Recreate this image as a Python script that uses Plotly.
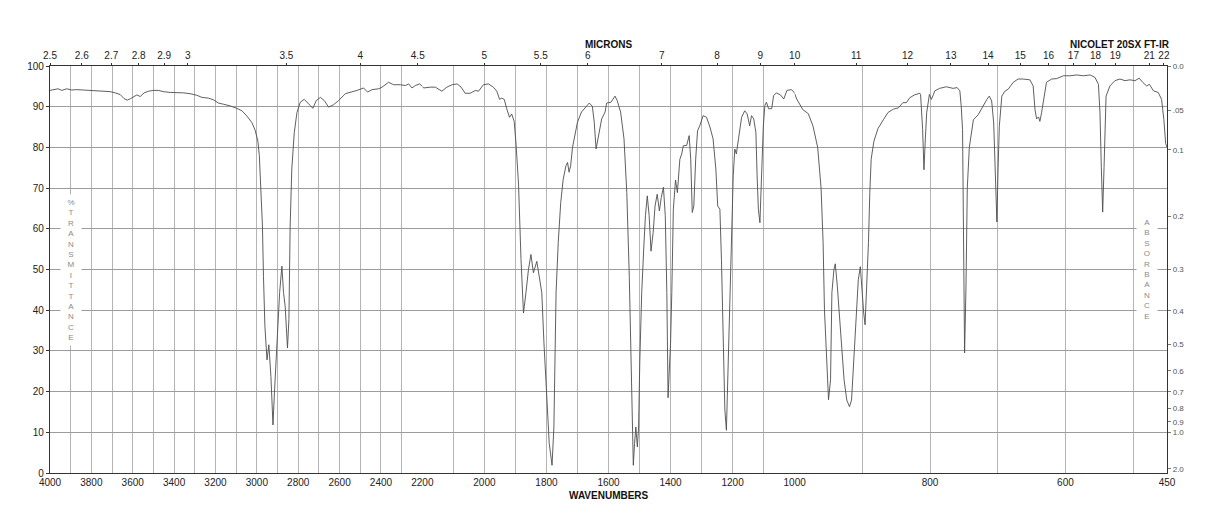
import numpy as np
import plotly.graph_objects as go

# ---------------- data ----------------
wavenumber = [
    4000, 3985, 3961, 3943, 3919, 3895, 3871, 3839, 3806, 3774, 3742, 3710, 3685, 3661, 3642, 3626,
    3610, 3594, 3580, 3564, 3545, 3524, 3500, 3476, 3452, 3419, 3387, 3355, 3323, 3290, 3266, 3234,
    3210, 3186, 3161, 3129, 3097, 3072, 3048, 3024, 3008, 2995, 2988, 2980, 2973, 2968, 2961, 2951,
    2942, 2932, 2922, 2915, 2903, 2890, 2879, 2871, 2863, 2852, 2845, 2839, 2831, 2819, 2806, 2790,
    2771, 2750, 2729, 2713, 2693, 2674, 2653, 2629, 2605, 2572, 2540, 2516, 2484, 2465, 2443, 2411,
    2395, 2363, 2339, 2306, 2282, 2266, 2250, 2234, 2213, 2200, 2196, 2174, 2158, 2137, 2121, 2104,
    2088, 2075, 2062, 2046, 2029, 2019, 2003, 1987, 1971, 1960, 1951, 1944, 1936, 1928, 1919, 1912,
    1904, 1898, 1890, 1882, 1874, 1866, 1858, 1850, 1842, 1831, 1823, 1815, 1808, 1799, 1791, 1782,
    1776, 1769, 1762, 1754, 1746, 1737, 1732, 1727, 1722, 1716, 1708, 1700, 1687, 1673, 1662, 1652,
    1646, 1640, 1633, 1622, 1611, 1606, 1592, 1579, 1572, 1561, 1550, 1541, 1533, 1527, 1523, 1520,
    1516, 1512, 1507, 1503, 1499, 1493, 1486, 1481, 1475, 1469, 1463, 1456, 1450, 1443, 1436, 1430,
    1423, 1417, 1412, 1408, 1404, 1400, 1396, 1391, 1384, 1378, 1370, 1364, 1359, 1348, 1340, 1335,
    1330, 1325, 1319, 1313, 1306, 1300, 1295, 1284, 1273, 1263, 1254, 1248, 1241, 1236, 1231, 1225,
    1220, 1214, 1209, 1204, 1198, 1193, 1188, 1181, 1171, 1161, 1153, 1145, 1139, 1132, 1125, 1121,
    1117, 1112, 1107, 1101, 1096, 1091, 1084, 1074, 1068, 1059, 1046, 1035, 1025, 1011, 1003, 1000,
    997, 988, 980, 973, 966, 961, 958, 956, 953, 950, 947, 945, 942, 940, 937, 934,
    931, 927, 923, 919, 916, 913, 909, 906, 903, 901, 898, 896, 894, 891, 889, 887,
    883, 877, 869, 862, 854, 847, 840, 835, 830, 823, 815, 814, 811, 809, 807, 805,
    801, 798, 795, 793, 786, 776, 766, 760, 756, 754, 752, 751, 749, 747, 745, 742,
    738.5, 736, 729, 722, 716, 712.5, 709, 706, 704, 701.3, 699.5, 697.7, 694, 689.5, 684.6, 677,
    670, 662.6, 652.6, 647.7, 645, 642.6, 639.7, 637.8, 635.3, 631.6, 628, 620.3, 613, 603, 593.4, 583.3,
    573.6, 563.6, 556.4, 551.3, 549, 547, 545, 543, 541.5, 540, 534.3, 526.9, 519.5, 512, 504.7, 497.3,
    491, 486, 480, 476, 470, 463, 458, 454.6, 452, 450,
]
transmittance = [
    94.0, 94.1, 94.4, 94.0, 94.4, 94.1, 94.2, 94.1, 94.0, 93.8, 93.8, 93.7, 93.4, 93.0, 92.0, 91.6,
    92.0, 92.6, 92.9, 92.5, 93.4, 93.8, 94.0, 94.0, 93.7, 93.5, 93.5, 93.4, 93.2, 92.8, 92.3, 92.1,
    91.7, 90.9, 90.6, 90.2, 89.6, 89.0, 87.7, 86.1, 84.2, 81.5, 78.0, 70.5, 60.7, 48.3, 36.0, 27.8,
    31.5, 23.7, 11.8, 19.7, 32.0, 44.3, 50.8, 44.3, 40.9, 30.7, 37.7, 60.7, 74.7, 83.7, 88.6, 91.1,
    91.8, 90.7, 89.6, 91.5, 92.3, 91.5, 89.9, 90.5, 91.5, 93.2, 93.6, 94.0, 94.6, 93.6, 94.2, 94.4,
    94.8, 96.0, 95.4, 95.4, 95.2, 95.6, 94.6, 95.2, 95.6, 95.0, 94.6, 94.8, 94.8, 93.8, 94.8, 95.4,
    95.6, 94.8, 93.3, 93.3, 94.0, 93.8, 95.4, 95.6, 94.8, 93.8, 91.8, 92.1, 91.8, 89.5, 87.4, 88.2,
    86.4, 80.8, 71.0, 52.5, 39.3, 44.3, 50.0, 53.7, 49.2, 52.0, 48.3, 44.3, 31.9, 19.6, 7.3, 1.9,
    11.3, 44.3, 56.6, 66.4, 72.2, 75.5, 76.3, 73.9, 75.5, 80.0, 82.9, 86.2, 88.7, 89.9, 90.9, 90.1,
    86.2, 79.6, 82.9, 87.0, 88.7, 90.9, 91.1, 92.6, 91.5, 88.7, 82.1, 68.9, 48.3, 27.8, 11.3, 1.9,
    7.3, 11.3, 6.4, 11.3, 27.8, 44.3, 55.8, 63.2, 68.1, 63.2, 54.5, 59.1, 65.6, 68.5, 64.4, 67.7,
    70.2, 63.2, 44.3, 18.5, 25.3, 31.9, 44.3, 64.8, 72.0, 68.9, 77.1, 78.4, 80.4, 80.5, 82.9, 77.1,
    64.0, 65.6, 77.1, 84.1, 85.3, 87.0, 87.8, 87.4, 85.0, 82.1, 74.7, 65.6, 64.8, 52.5, 31.9, 15.5,
    10.5, 27.8, 44.3, 60.7, 73.0, 79.6, 78.4, 82.1, 87.4, 89.0, 88.2, 85.3, 87.8, 87.0, 83.7, 73.0,
    64.8, 61.5, 73.0, 85.3, 90.3, 91.1, 89.5, 89.5, 92.7, 93.4, 92.9, 91.9, 94.0, 94.2, 93.7, 93.2,
    91.9, 89.3, 88.3, 85.3, 80.0, 70.0, 56.6, 40.1, 27.8, 18.0, 22.9, 44.3, 50.0, 51.4, 45.9, 39.3,
    30.3, 22.9, 17.9, 16.3, 17.9, 26.1, 38.5, 47.5, 50.7, 45.1, 39.3, 36.4, 44.3, 56.6, 68.9, 77.1,
    81.5, 84.6, 86.8, 88.6, 89.4, 89.7, 91.0, 91.0, 92.2, 92.9, 93.3, 93.0, 84.4, 74.5, 82.0, 88.5,
    93.0, 91.8, 93.0, 93.9, 94.5, 94.9, 94.5, 94.7, 93.9, 90.2, 84.4, 70.0, 29.5, 45.0, 70.0, 80.0,
    84.4, 86.8, 88.0, 90.2, 91.8, 92.6, 91.4, 86.0, 75.0, 61.7, 75.0, 85.2, 92.6, 93.8, 94.3, 96.0,
    96.8, 96.8, 96.6, 95.1, 89.3, 87.0, 87.5, 86.4, 88.5, 92.6, 96.0, 96.8, 96.9, 97.6, 97.6, 97.8,
    97.6, 97.8, 97.2, 95.5, 88.5, 75.0, 64.1, 75.0, 88.0, 92.6, 95.1, 96.4, 96.8, 96.4, 96.6, 96.4,
    97.0, 96.0, 95.1, 95.5, 93.9, 93.5, 91.8, 86.8, 81.0, 80.0,
]

segment_ranges = [(4000, 2200), (2200, 1000), (1000, 450)]
wavenumber_ticks = [
    [4000, 3800, 3600, 3400, 3200, 3000, 2800, 2600, 2400, 2200],
    [2000, 1800, 1600, 1400, 1200, 1000],
    [800, 600, 450],
]
micron_ticks = [
    ["2.5", "2.6", "2.7", "2.8", "2.9", "3", "3.5", "4", "4.5"],
    ["5", "5.5", "6", "7", "8", "9", "10"],
    ["11", "12", "13", "14", "15", "16", "17", "18", "19", "21", "22"],
]
transmittance_ticks = [0, 10, 20, 30, 40, 50, 60, 70, 80, 90, 100]
absorbance_labels = ["0.0", ".05", "0.1", "0.2", "0.3", "0.4", "0.5", "0.6", "0.7", "0.8", "0.9", "1.0", "2.0"]

# ---------------- styling ----------------
FONT = "Liberation Sans, Arial, Helvetica, sans-serif"
AXIS_COLOR = "#333333"
HGRID = "#9c9c9c"
VGRID = "#b4b4b4"
LINE_COLOR = "#4d4d4d"

wn = np.array(wavenumber, dtype=float)
tr = np.array(transmittance, dtype=float)

fig = go.Figure()
domains = [[0.0, 1 / 3], [1 / 3, 2 / 3], [2 / 3, 1.0]]
layout_axes = {}

for i, (hi, lo) in enumerate(segment_ranges):
    mask = (wn <= hi) & (wn >= lo)
    xname = "x" if i == 0 else f"x{i + 1}"
    xkey = "xaxis" if i == 0 else f"xaxis{i + 1}"
    topname = f"x{i + 4}"
    topkey = f"xaxis{i + 4}"

    fig.add_trace(go.Scatter(
        x=wn[mask], y=tr[mask], mode="lines", xaxis=xname, yaxis="y",
        line=dict(color=LINE_COLOR, width=0.9), hoverinfo="skip", showlegend=False,
    ))
    # invisible carrier so the micron (top) axis of this segment is drawn
    fig.add_trace(go.Scatter(
        x=wn[mask], y=tr[mask], mode="lines", xaxis=topname, yaxis="y",
        line=dict(width=0), opacity=0, hoverinfo="skip", showlegend=False,
    ))

    layout_axes[xkey] = dict(
        domain=domains[i], range=[hi, lo], anchor="y",
        tickmode="array", tickvals=wavenumber_ticks[i],
        ticktext=[str(v) for v in wavenumber_ticks[i]],
        showgrid=True, gridcolor=VGRID, gridwidth=1,
        minor=dict(tick0=0, dtick=100, showgrid=True, gridcolor=VGRID, gridwidth=1),
        showline=True, linecolor=AXIS_COLOR, linewidth=1.2,
        ticks="", zeroline=False,
        tickfont=dict(family=FONT, size=10, color="#222"),
    )
    mic = [float(m) for m in micron_ticks[i]]
    layout_axes[topkey] = dict(
        domain=domains[i], range=[hi, lo], anchor="y", overlaying=xname, side="top",
        tickmode="array", tickvals=[10000.0 / m for m in mic], ticktext=micron_ticks[i],
        ticks="outside", ticklen=2, tickcolor=AXIS_COLOR,
        showgrid=False, zeroline=False,
        showline=True, linecolor=AXIS_COLOR, linewidth=1.2,
        tickfont=dict(family=FONT, size=10, color="#222"),
    )

# invisible carrier for the absorbance axis
fig.add_trace(go.Scatter(
    x=wn[wn <= 1000], y=tr[wn <= 1000], mode="lines", xaxis="x3", yaxis="y2",
    line=dict(width=0), opacity=0, hoverinfo="skip", showlegend=False,
))

absorbance_vals = [float(a) for a in absorbance_labels]

fig.update_layout(
    width=1218, height=528,
    margin=dict(l=50, r=51, t=66, b=55),
    paper_bgcolor="white", plot_bgcolor="white",
    font=dict(family=FONT, size=10, color="#222"),
    showlegend=False,
    yaxis=dict(
        domain=[0, 1], range=[0, 100], anchor="x",
        tickmode="array", tickvals=transmittance_ticks,
        ticktext=[str(v) for v in transmittance_ticks],
        showgrid=True, gridcolor=HGRID, gridwidth=1, zeroline=False,
        showline=True, linecolor=AXIS_COLOR, linewidth=1.2,
        ticks="outside", ticklen=3, tickcolor=AXIS_COLOR,
        tickfont=dict(family=FONT, size=10, color="#222"),
    ),
    yaxis2=dict(
        range=[0, 100], overlaying="y", anchor="x3", side="right",
        tickmode="array", tickvals=[100.0 * 10 ** (-a) for a in absorbance_vals],
        ticktext=absorbance_labels,
        showgrid=False, zeroline=False,
        showline=True, linecolor=AXIS_COLOR, linewidth=1.2,
        ticks="outside", ticklen=3, tickcolor="#777",
        tickfont=dict(family=FONT, size=8, color="#555"),
    ),
    **layout_axes,
)

letters_t = "<br>".join(list("%TRANSMITTANCE"))
letters_a = "<br>".join(list("ABSORBANCE"))

fig.add_annotation(text="<b>MICRONS</b>", xref="paper", yref="paper", x=0.5, y=1.054,
                   xanchor="center", yanchor="middle", showarrow=False,
                   font=dict(family=FONT, size=10, color="#111"))
fig.add_annotation(text="<b>NICOLET 20SX FT-IR</b>", xref="paper", yref="paper", x=0.958, y=1.054,
                   xanchor="center", yanchor="middle", showarrow=False,
                   font=dict(family=FONT, size=10, color="#111"))
fig.add_annotation(text="<b>WAVENUMBERS</b>", xref="paper", yref="paper", x=0.5, y=-0.0565,
                   xanchor="center", yanchor="middle", showarrow=False,
                   font=dict(family=FONT, size=10, color="#111"))
fig.add_annotation(text=letters_t, xref="x", yref="y", x=3900, y=50,
                   xanchor="center", yanchor="middle", showarrow=False,
                   bgcolor="white", borderpad=3, width=14,
                   font=dict(family=FONT, size=8, color="#8a8a8a"))
fig.add_annotation(text=letters_a, xref="paper", yref="y", x=(1147 - 50) / 1117, y=50,
                   xanchor="center", yanchor="middle", showarrow=False,
                   bgcolor="white", borderpad=3, width=14,
                   font=dict(family=FONT, size=8, color="#8a8a8a"))

fig.write_html("out.html")
